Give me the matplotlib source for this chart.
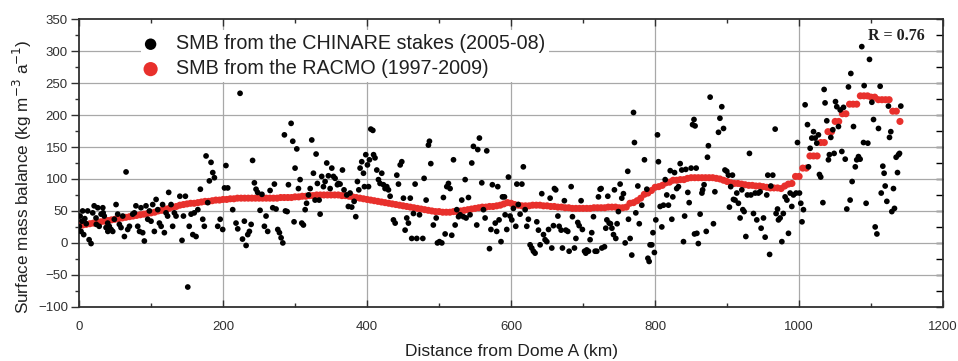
import matplotlib
matplotlib.use("Agg")
import matplotlib.pyplot as plt
from matplotlib.ticker import MultipleLocator
import numpy as np

# ---------------------------------------------------------------------------
# Data
# ---------------------------------------------------------------------------
# CHINARE stake SMB (km from Dome A, kg m-3 a-1)
stake_km = [
    0.5, 1.5, 2.8, 4, 5, 6.5, 8, 10, 12, 14, 16.7, 19, 21, 23.6, 24, 26, 28, 30.6, 33, 33.5,
    35, 37.5, 39.8, 40, 42, 44.5, 46.8, 49, 51.4, 53.7, 56, 58.3, 60.7, 63, 65.3, 67.6, 70, 74.5, 76.8, 79,
    81.5, 84, 86, 88.4, 90.7, 93, 95.4, 97.7, 100, 102.3, 104.6, 107, 109.3, 111.6, 114, 116, 118.5, 120.8, 123, 124.5,
    127.8, 130, 132.4, 134.7, 140, 143, 145, 147.7, 151, 153, 155.6, 158, 160, 162.5, 165, 168.5, 171.8, 174, 176.4, 178.7,
    181, 183.3, 185.7, 188, 192.6, 196, 199.5, 202, 204, 206.5, 213.4, 218, 220.4, 223.6, 227, 229.6, 232, 234.3, 236.6, 239,
    241, 243.5, 245.8, 248, 251.4, 254, 257.4, 259.7, 262, 265.3, 269, 271.3, 273.6, 276, 278.3, 280.6, 283, 285.2, 286.6,
    289, 290.8, 294.5, 296.8, 298.6, 300, 302.4, 304.7, 307, 309.3, 311.6, 314, 316, 318.6, 321, 323.2, 325.5, 327.8, 329.2, 331,
    333.4, 334.8, 337, 339.4, 341.7, 344, 346.3, 348.7, 351, 353.3, 355.6, 358.8, 360.2, 362.5, 365.8, 368, 371.8, 374, 376.4, 378.7,
    382, 384.3, 386.6, 388.5, 390.3, 392.6, 395, 396.3, 398.2, 400.5, 402, 403.3, 405.2, 408, 409, 411, 413.5, 415.8, 418, 420.4,
    422.7, 425, 427.4, 429.7, 432, 436.6, 439, 441.3, 443.6, 446, 448.2, 450.5, 452.8, 455.1, 457.4, 460, 462, 464.4, 466.7, 469,
    472.8, 477.4, 479.2, 482, 485.2, 486.6, 488.5, 492, 496, 497.7, 500.5, 503.8, 506, 508.4, 510.7, 513, 515.3, 517.6, 520, 522.3,
    524.6, 527, 529.2, 531.5, 533.8, 536.2, 537.5, 540.8, 543, 545.4, 547.7, 552.3, 553.7, 556, 559.3, 561.6, 563.9,
    566.2, 570, 572, 574, 578, 580, 581.5, 583.3, 586, 588, 590.8, 591.7, 594, 596.3, 598.6, 601, 603.2, 606.5, 608, 610,
    612.5, 615, 617, 619.5, 621.8, 624, 626.4, 628.7, 631, 633.3, 635.7, 638, 640.3, 642.6, 645, 647.2, 649.6, 652, 654.2, 656.5,
    658.8, 660.2, 662, 665, 666.7, 669.5, 671.3, 674, 676, 678.7, 680.6, 683.4, 685.2, 688, 690, 692.6, 694.5, 697.2, 699, 702,
    703.7, 705, 707.4, 709.7, 712, 714.4, 716.7, 719, 721.3, 723.6, 725, 726, 729.7, 731.5, 733, 734.3, 736.2, 738, 740, 742.2,
    743.5, 745.4, 747.2, 749, 751.4, 753.7, 756, 758.4, 762, 763, 765.3, 767.6, 770, 771.3, 773.2, 776, 778, 781.5, 785.2, 788.5,
    790, 791.7, 793, 795.4, 797, 799, 801, 803.3, 804.6, 807, 809.3, 811.6, 814, 816.2, 818.5, 821, 823.2, 824.6, 827, 830,
    832.4, 834.8, 837, 839.4, 841, 842.6, 845.4, 847.3, 850, 852, 854, 854.7,
    855.5, 857, 858, 860, 862.5, 865, 866, 868, 871, 872.7, 874, 876.4, 881, 883, 888, 890, 892.6, 895, 897, 899.5,
    901.8, 903.2, 905, 907.4, 908.8, 911, 913.4, 915.7, 918, 920.4, 921.8, 923.6, 926, 928.2, 931, 933, 936.6, 939, 941.2, 943.5,
    945.8, 947.2, 950.5, 952.8, 955, 956.5, 959, 960.7, 963.4, 966.7, 968, 970, 971.3, 973.6, 976, 978, 980.5, 983, 985.2, 987.5,
    989.8, 992.1, 995.8, 997.7, 1000.5, 1002.3, 1004, 1006, 1008.3, 1011.6, 1013, 1015.3, 1017.6, 1020, 1022.3, 1024.5, 1026.8, 1028.2, 1030, 1033,
    1034.7, 1036, 1038.4, 1040.7, 1042, 1044, 1046.8, 1048.6, 1050.5, 1052.3, 1054.6, 1057, 1059.3, 1061.6, 1064, 1066.2, 1068.5, 1070.8, 1071.8, 1073.6,
    1075.5, 1078, 1080, 1082.4, 1084.7, 1087, 1089.4, 1090.3, 1093, 1095.4, 1097.7, 1101, 1103.3, 1105.6, 1108, 1110.2, 1112.5, 1114, 1116.2, 1118,
    1119.5, 1121.8, 1124, 1125.5, 1127.3, 1128.7, 1131, 1132.4, 1134.7, 1136.6, 1138, 1139.4, 1141.2,
]
stake_smb = [
    26, 42, 18, 34, 50, 13, 38, 30, 50, 5, -1, 47, 58, 39, 29, 55, 26, 45, 55, 47,
    42, 24, 31, 18, 26, 21, 18, 37, 60, 45, 29, 24, 42, 10, 111, 21, 26, 45, 47, 58,
    26, 18, 55, 16, 3, 58, 37, 50, 34, 60, 18, 68, 52, 31, 26, 60, 16, 47, 42, 79,
    60, 26, 47, 42, 73, 4, 42, 73, -69, 26, 45, 13, 47, 10, 52, 84, 37, 26, 136, 63,
    97, 126, 110, 102, 26, 37, 21, 86, 121, 86, 52, 31, 22, 234, 6, 34, -4, 13, 18, 29,
    129, 94, 84, 79, 51, 76, 26, 42, 18, 82, 55, 92, 53, 21, 16, 8, 0, 169, 50,
    49, 91, 187, 159, 33, 117, 147, 85, 99, 31, 28, 52, 62, 75, 85, 161, 109, 67, 139, 93,
    67, 45, 104, 88, 96, 125, 105, 85, 117, 104, 101, 91, 93, 92, 114, 83, 75, 57, 78, 56,
    65, 41, 96, 83, 117, 127, 109, 88, 138, 122, 88, 130, 178, 176, 138, 133, 114, 99, 93, 109,
    91, 85, 88, 83, 73, 36, 31, 106, 92, 122, 127, 70, 20, 39, 31, 70, 7, 46, 92, 7,
    44, 7, 101, 67, 153, 159, 124, 28, 39, 0, 2, 0, 71, 14, 88, 93, 85, 12, 130, 28,
    52, 41, 44, 67, 41, 99, 39, 71, 44, 125, 151, 28, 146, 164, 94, 52, 39,
    144, -9, 21, 91, 31, 18, 88, 36, 2, 72, 72, 44, 21, 103, 42, 36, 54, 26, 92, 60,
    45, 92, 119, 52, 26, 37, -3, -8, -13, -16, 33, 20, -3, 77, 13, 5, 2, 21, 70, -8,
    27, 85, 83, 42, 26, 20, -8, 66, 20, 18, -13, 88, 41, -8, 7, 32, 27, 66, 21, -13,
    -16, -11, -13, 5, 16, 41, -13, -13, 72, 84, 85, -8, -6, 23, 36, 73, 31, 30, 23, 13,
    83, 7, 30, 49, 92, 70, 77, 0, 112, 37, 7, -19, 204, 157, 47, 89, 30, 59, 130, 84,
    -24, -29, -3, -3, 16, -15, 36, 169, 127, 57, 25, 59, 99, 75, 59, 113, 37, 72, 110, 85,
    88, 124, 114, 2, 42, 115, 79, 63, 117, 185, 193, 14,
    183, 117, 15, -1, 45, 78, 83, 91, 18, 134, 152, 228, 30, 80, 173, 195, 213, 179, 114, 112,
    106, 56, 88, 106, 68, 67, 78, 62, 39, 83, 52, 49, 10, 75, 140, 75, 46, 78, 36, 78,
    80, 23, 39, 9, 75, 106, -18, 89, 106, 178, 46, 53, 36, 39, 2, 46, 72, 67, 15, 78,
    57, 75, 78, 157, 78, 62, 33, 52, 216, 185, 119, 148, 164, 174, 164, 156, 169, 107, 103, 63,
    240, 219, 191, 130, 138, 165, 177, 140, 221, 213, 182, 208, 143, 212, 131, 53, 244, 67, 265, 96,
    182, 119, 130, 135, 131, 307, 157, 246, 62, 156, 287, 220, 193, 25, 14, 179, 245, 78, 120, 109,
    89, 65, 214, 165, 174, 49, 85, 54, 134, 110, 138, 140, 214,
]

# RACMO SMB sampled every 5 km along the traverse (0 .. 1140 km)
racmo_km = np.arange(0, 1141, 5)
racmo_smb = [
    27, 28, 29, 30, 31, 32, 33, 34, 35, 36, 37, 38, 39, 40, 41, 42, 43, 44, 45, 46,
    47, 48, 50, 51, 53, 54, 56, 57, 59, 60, 61, 62, 62, 63, 64, 65, 65, 66, 67, 67,
    68, 68, 69, 69, 70, 70, 70, 70, 70, 70, 70, 70, 70, 70, 70, 70, 71, 71, 71, 71,
    72, 72, 73, 73, 74, 74, 75, 75, 75, 75, 75, 75, 75, 74, 74, 73, 72, 71, 70, 69,
    68, 67, 66, 65, 64, 63, 62, 61, 60, 59, 58, 57, 56, 55, 54, 53, 52, 51, 50, 49,
    49, 48, 48, 48, 49, 49, 50, 51, 52, 53, 54, 55, 56, 56, 57, 57, 58, 59, 61, 63,
    62, 60, 59, 58, 58, 58, 59, 59, 59, 58, 58, 57, 57, 56, 56, 55, 55, 54, 54, 54,
    54, 54, 54, 55, 55, 55, 55, 56, 56, 56, 55, 55, 56, 62, 63, 66, 70, 76, 78, 82,
    87, 88, 90, 94, 95, 98, 98, 99, 99, 101, 102, 102, 102, 102, 102, 102, 102, 101, 100, 98,
    96, 94, 93, 93, 92, 91, 90, 90, 89, 89, 88, 87, 86, 86, 86, 85, 89, 92, 93, 104,
    104, 117, 117, 136, 136, 136, 157, 157, 174, 174, 190, 190, 202, 202, 217, 217, 217, 230, 230, 230,
    228, 228, 224, 224, 224, 224, 206, 206, 190,
]

# ---------------------------------------------------------------------------
# Figure
# ---------------------------------------------------------------------------
plt.rcParams['font.family'] = ['Liberation Sans', 'DejaVu Sans']
fig = plt.figure(figsize=(9.58, 3.61), dpi=100)
ax = fig.add_axes([0.0825, 0.150, 0.902, 0.797])

ax.scatter(racmo_km, racmo_smb, s=26, color='#e8302c', edgecolors='none', zorder=3,
           label='SMB from the RACMO (1997-2009)')
ax.scatter(stake_km, stake_smb, s=17, color='black', edgecolors='none', zorder=4,
           label='SMB from the CHINARE stakes (2005-08)')

ax.set_xlim(0, 1200)
ax.set_ylim(-100, 350)
ax.xaxis.set_major_locator(MultipleLocator(200))
ax.xaxis.set_minor_locator(MultipleLocator(100))
ax.yaxis.set_major_locator(MultipleLocator(50))
ax.yaxis.set_minor_locator(MultipleLocator(25))

for x in range(200, 1200, 200):
    ax.axvline(x, color='#a8a8a8', lw=0.9, zorder=1)
for y in range(-50, 350, 50):
    ax.axhline(y, color='#a8a8a8', lw=0.9, zorder=1)

for sp in ax.spines.values():
    sp.set_linewidth(1.3)
    sp.set_color('#303030')

ax.tick_params(axis='x', which='both', direction='in', top=True, labelsize=9.5,
               pad=10, colors='#303030')
ax.tick_params(axis='x', which='major', length=5, width=1.0)
ax.tick_params(axis='x', which='minor', length=3, width=1.0)
ax.tick_params(axis='y', which='both', direction='out', labelsize=9.5, pad=2,
               colors='#303030')
ax.tick_params(axis='y', which='major', length=6, width=1.0)
ax.tick_params(axis='y', which='minor', length=3, width=1.0)

# right side ticks point inward
sec = ax.secondary_yaxis('right')
sec.yaxis.set_major_locator(MultipleLocator(50))
sec.yaxis.set_minor_locator(MultipleLocator(25))
sec.tick_params(axis='y', which='both', direction='in', labelright=False, width=1.0)
sec.tick_params(axis='y', which='major', length=5)
sec.tick_params(axis='y', which='minor', length=5)
sec.spines['right'].set_visible(False)

ax.set_xlabel('Distance from Dome A (km)', fontsize=12.5, color='#202020', va='center')
ax.xaxis.set_label_coords(0.501, -0.154)
ax.set_ylabel(r'Surface mass balance (kg m$^{-3}$ a$^{-1}$)', fontsize=12.3,
              color='#202020', va='center')
ax.yaxis.set_label_coords(-0.066, 0.453)

h, l = ax.get_legend_handles_labels()
leg = ax.legend(h[::-1], l[::-1], loc='upper left', bbox_to_anchor=(0.06, 0.995),
                fontsize=14.2, frameon=True, framealpha=1, facecolor='white',
                edgecolor='none', markerscale=2.0, handletextpad=1.0,
                labelspacing=0.3, borderpad=0.2, handlelength=0.6)
for t in leg.get_texts():
    t.set_color('#202020')

ax.text(1096, 324, 'R = 0.76', fontsize=11.5, fontweight='bold',
        family='Liberation Serif', ha='left', va='center', color='#202020')

fig.savefig('out.png', dpi=100)
